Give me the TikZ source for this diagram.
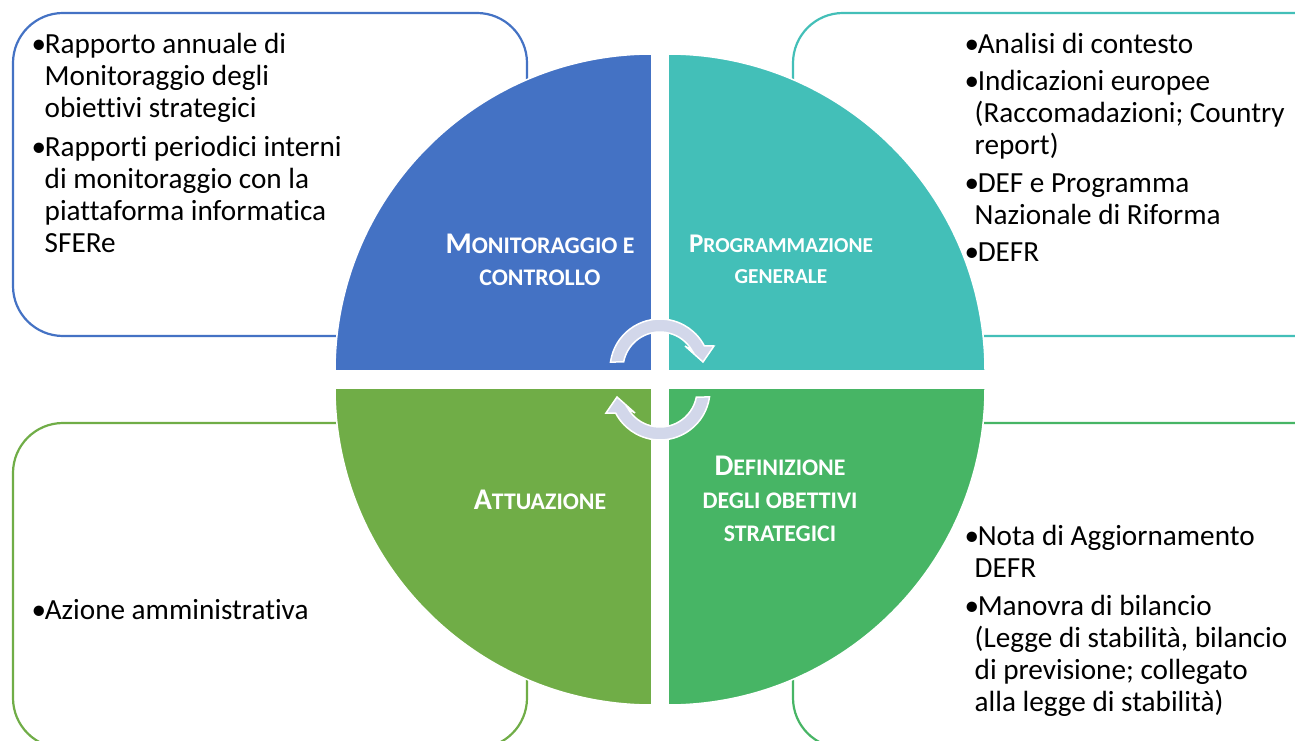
\documentclass[tikz,border=0pt]{standalone}
\usepackage{fontspec}
\setmainfont[Ligatures=CommonOff]{Carlito}
\definecolor{cblue}{HTML}{4472C4}
\definecolor{cteal}{HTML}{43BFB8}
\definecolor{colive}{HTML}{70AD47}
\definecolor{cgreen}{HTML}{47B565}
\definecolor{carrow}{HTML}{D2D7EA}
\newcommand{\ind}{\hspace*{13pt}}
\newcommand{\indb}{\hspace*{10pt}}
\newcommand{\bul}{•\kern-1.5pt}
\newcommand{\sct}[2]{{\fontsize{30}{30}\selectfont #1}#2}
\newcommand{\scs}[2]{{\fontsize{27}{27}\selectfont #1}#2}
\tikzset{
  x=1pt,y=1pt,
  panel/.style={line width=2.2pt,fill=white,rounded corners=50pt},
  pie/.style={draw=white,line width=1.5pt},
  bodytext/.style={inner sep=0pt,align=left,anchor=north west,text=black,font=\fontsize{29.2}{32}\selectfont},
  headtext/.style={inner sep=0pt,align=center,text=white,font=\bfseries\fontsize{23.8}{33}\selectfont},
  headsmall/.style={inner sep=0pt,align=center,text=white,font=\bfseries\fontsize{21.3}{31}\selectfont},
  cyclearrow/.style={fill=carrow,draw=white,line width=1.5pt,line join=miter}
}
\begin{document}
\begin{tikzpicture}
\useasboundingbox (0,0) rectangle (1295,740);
\clip (0,0) rectangle (1295,740);
\fill[white] (0,0) rectangle (1295,740);
% panels
\draw[panel,draw=cblue] (13,404) rectangle (527,727);
\draw[panel,draw=cteal] (793,404) rectangle (1345,727);
\draw[panel,draw=colive] (13,-8) rectangle (527,317);
\draw[panel,draw=cgreen] (793,-8) rectangle (1345,317);
% quadrants
\fill[pie,fill=cblue] (652,369) -- (335,369) arc[start angle=180,end angle=90,radius=317] -- cycle;
\fill[pie,fill=cteal] (668,369) -- (668,686) arc[start angle=90,end angle=0,radius=317] -- cycle;
\fill[pie,fill=colive] (652,352) -- (652,35) arc[start angle=270,end angle=180,radius=317] -- cycle;
\fill[pie,fill=cgreen] (668,352) -- (985,352) arc[start angle=0,end angle=-90,radius=317] -- cycle;
\draw[pie] (335,369) -- (652,369) -- (652,686);
\draw[pie] (985,369) -- (668,369) -- (668,686);
\draw[pie] (335,352) -- (652,352) -- (652,35);
\draw[pie] (985,352) -- (668,352) -- (668,35);
% cycle arrows
\foreach \rot in {0,180}{
\begin{scope}[rotate around={\rot:(660,360.5)}]
\draw[cyclearrow] (660,371) ++(172:50) arc[start angle=172,end angle=27.4,radius=50]
  -- (714,394) -- (703,378) -- (685,394) -- (692,389.5)
  arc[start angle=30,end angle=169,radius=37] -- cycle;
\end{scope}}
% headings
\node[headtext] (hm) at (540,480.5) {\sct{M}{ONITORAGGIO E}\\[-1pt]CONTROLLO};
\node[headsmall] (hp) at (781,481) {\scs{P}{ROGRAMMAZIONE}\\GENERALE};
\node[headtext] (ha) at (540,240.5) {\sct{A}{TTUAZIONE}};
\node[headtext] (hd) at (780,241) {\sct{D}{EFINIZIONE}\\DEGLI OBETTIVI\\STRATEGICI};
% body
\node[bodytext] (tl) at (31.5,707) {\bul Rapporto annuale di\\\ind Monitoraggio degli\\\ind obiettivi strategici\\[7pt]\bul Rapporti periodici interni\\\ind di monitoraggio con la\\\ind piattaforma informatica\\\ind SFERe};
\node[bodytext] (tr) at (964.5,707) {\bul Analisi di contesto\\[5.5pt]\bul Indicazioni europee\\\indb (Raccomadazioni; Country\\\indb report)\\[5.5pt]\bul DEF e Programma\\\indb Nazionale di Riforma\\[5.5pt]\bul DEFR};
\node[bodytext] (bl) at (31.5,141) {\bul Azione amministrativa};
\node[bodytext] (br) at (964.5,214.5) {\bul Nota di Aggiornamento\\\indb DEFR\\[5.5pt]\bul Manovra di bilancio\\\indb (Legge di stabilità, bilancio\\\indb di previsione; collegato\\\indb alla legge di stabilità)};
\end{tikzpicture}
\end{document}
